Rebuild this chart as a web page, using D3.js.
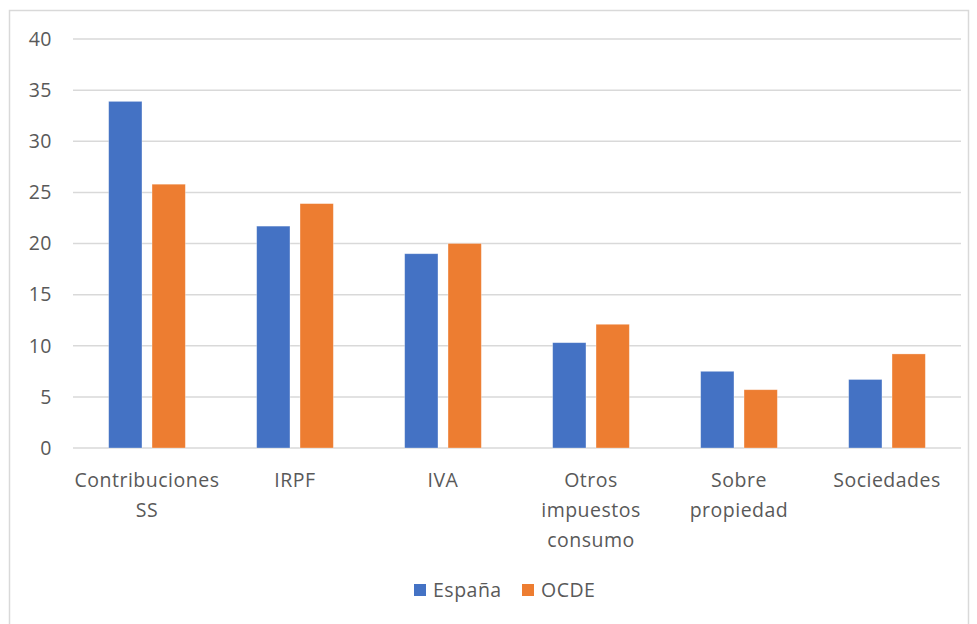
<!DOCTYPE html>
<html>
<head>
<meta charset="utf-8">
<script src="https://cdn.jsdelivr.net/npm/d3@7"></script>
<style>
  html, body { margin: 0; padding: 0; background: #fff; }
  svg { display: block; font-family: "Open Sans", "Liberation Sans", Arial, sans-serif; }
  text { letter-spacing: 0.5px; }
</style>
</head>
<body>
<svg id="chart" width="977" height="624"></svg>
<script>
// chart data
const categories = ["Contribuciones SS", "IRPF", "IVA", "Otros impuestos consumo", "Sobre propiedad", "Sociedades"];
const categoryLines = [["Contribuciones", "SS"], ["IRPF"], ["IVA"], ["Otros", "impuestos", "consumo"], ["Sobre", "propiedad"], ["Sociedades"]];
const seriesNames = ["España", "OCDE"];
const espana = [33.9, 21.7, 19.0, 10.3, 7.5, 6.7];
const ocde = [25.8, 23.9, 20.0, 12.1, 5.7, 9.2];
const yTicks = [0, 5, 10, 15, 20, 25, 30, 35, 40];
const colors = ["#4472C4", "#ED7D31"];

const svg = d3.select("#chart");
const textColor = "#595959";
const fontSize = "19.5px";

// outer chart border
svg.append("rect")
  .attr("x", 9.5).attr("y", 10.5)
  .attr("width", 959).attr("height", 640)
  .attr("fill", "#fff")
  .attr("stroke", "#d9d9d9")
  .attr("stroke-width", 1.5);

const plotLeft = 73, plotRight = 961, plotTop = 39, plotBottom = 448;

const y = d3.scaleLinear().domain([0, 40]).range([plotBottom, plotTop]);
const x0 = d3.scaleBand().domain(categories).range([plotLeft, plotRight]).paddingInner(0).paddingOuter(0);
const step = x0.bandwidth();
const barW = step * 0.225;
const gap = step * 0.068;

// gridlines
svg.append("g")
  .selectAll("line")
  .data(yTicks)
  .join("line")
  .attr("x1", plotLeft).attr("x2", plotRight)
  .attr("y1", d => y(d)).attr("y2", d => y(d))
  .attr("stroke", "#d9d9d9")
  .attr("stroke-width", 1.5);

// y axis labels
const yAxis = svg.append("g")
  .attr("transform", `translate(${plotLeft},0)`)
  .call(d3.axisLeft(y).tickValues(yTicks).tickSize(0).tickPadding(21));
yAxis.select(".domain").remove();
yAxis.selectAll("text")
  .attr("fill", textColor)
  .style("font-size", fontSize)
  .style("font-family", "'Open Sans', sans-serif");

// bars
const series = [espana, ocde];
series.forEach((vals, s) => {
  svg.append("g")
    .selectAll("rect")
    .data(categories)
    .join("rect")
    .attr("x", (d, i) => {
      const c = x0(d) + step / 2;
      return s === 0 ? c - gap / 2 - barW : c + gap / 2;
    })
    .attr("y", (d, i) => y(vals[i]))
    .attr("width", barW)
    .attr("height", (d, i) => y(0) - y(vals[i]))
    .attr("fill", colors[s])
    .attr("stroke", "#fff")
    .attr("stroke-opacity", 0.4)
    .attr("stroke-width", 0.75);
});

// category labels
const xLab = svg.append("g");
categories.forEach((c, i) => {
  const t = xLab.append("text")
    .attr("x", x0(c) + step / 2)
    .attr("y", 487)
    .attr("text-anchor", "middle")
    .attr("fill", textColor)
    .style("font-size", fontSize);
  categoryLines[i].forEach((line, j) => {
    t.append("tspan")
      .attr("x", x0(c) + step / 2)
      .attr("dy", j === 0 ? 0 : 30)
      .text(line);
  });
});

// legend
const legend = svg.append("g");
const legendItems = [{ x: 414, name: seriesNames[0], color: colors[0] }, { x: 522, name: seriesNames[1], color: colors[1] }];
legendItems.forEach(it => {
  legend.append("rect")
    .attr("x", it.x).attr("y", 584)
    .attr("width", 12).attr("height", 12)
    .attr("fill", it.color);
  legend.append("text")
    .attr("x", it.x + 19).attr("y", 597)
    .attr("fill", textColor)
    .style("font-size", fontSize)
    .text(it.name);
});
</script>
</body>
</html>
